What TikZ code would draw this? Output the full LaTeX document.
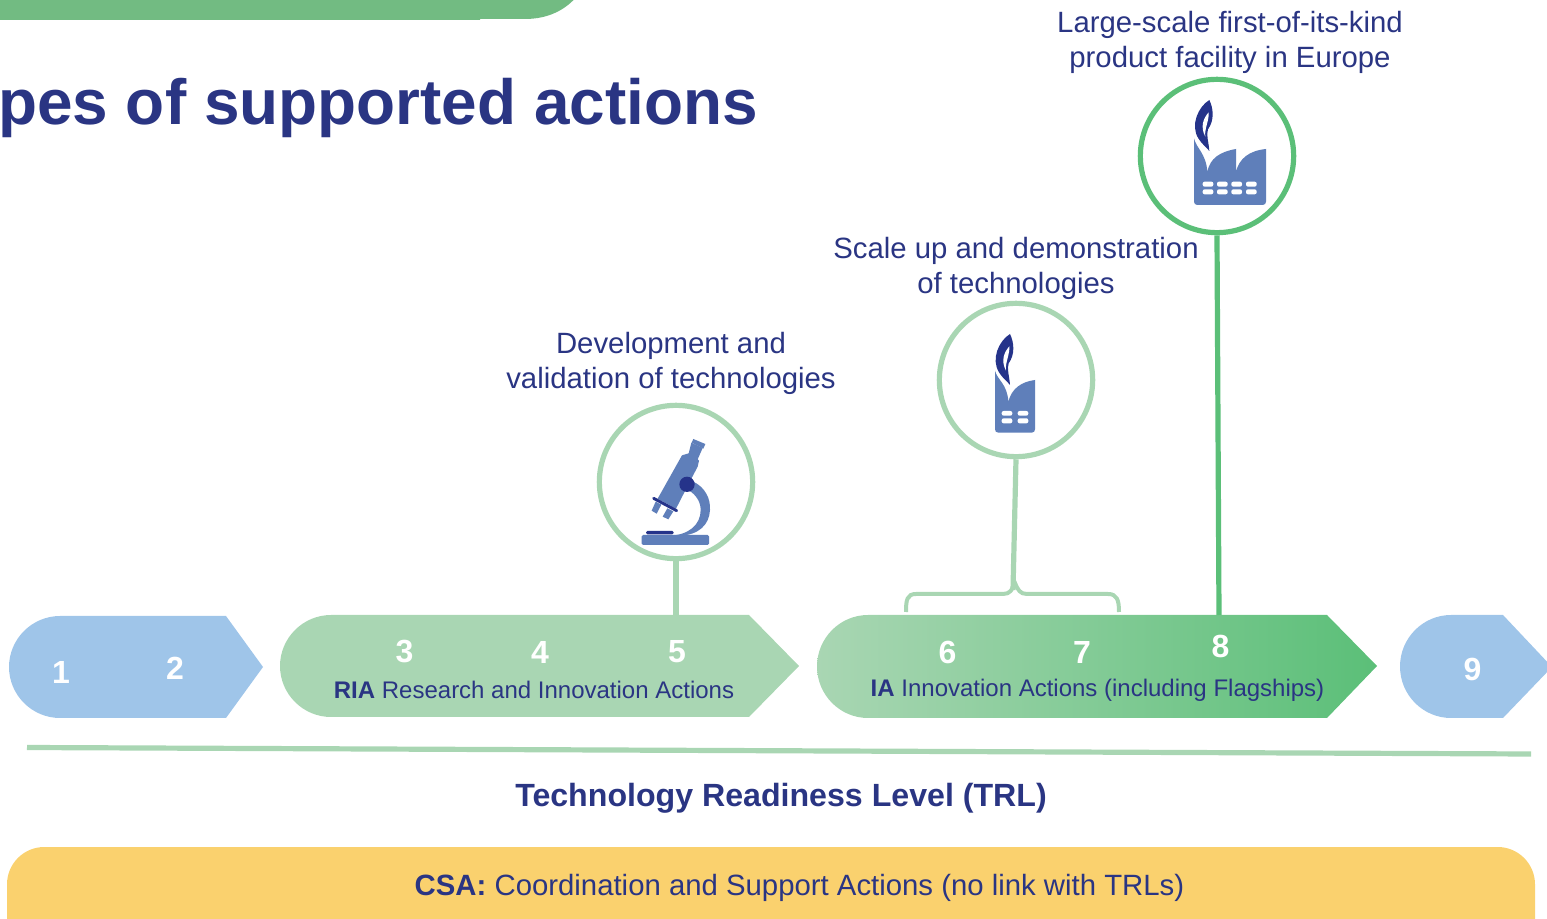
\documentclass[tikz,border=0pt]{standalone}
\usepackage{fontspec}
\setmainfont{Liberation Sans}
\definecolor{navy}{HTML}{2A3583}
\definecolor{iconblue}{HTML}{5F7FBA}
\definecolor{darkicon}{HTML}{25338A}
\definecolor{skyblue}{HTML}{9FC5E9}
\definecolor{palegreen}{HTML}{A9D6B3}
\definecolor{stronggreen}{HTML}{5BBF78}
\definecolor{topgreen}{HTML}{72BB82}
\definecolor{csayellow}{HTML}{FAD16E}
\tikzset{
  ring/.style={circle,draw=#1,line width=3.9pt,minimum size=115pt,inner sep=0pt,fill=white},
  stem/.style={draw=#1,line width=3.9pt},
  caption/.style={text=navy,align=center,font=\fontsize{22}{26.3}\selectfont},
  numlabel/.style={text=white,font=\bfseries\fontsize{24}{28}\selectfont,inner sep=0pt},
  barlabel/.style={text=navy,font=\fontsize{18}{22}\selectfont,inner sep=0pt},
  flameicon/.pic={
    \fill[darkicon] (238,90) .. controls (205,110) and (180,165) .. (205,205) .. controls (215,222) and (230,232) .. (238,243) .. controls (236,215) and (228,195) .. (234,178) .. controls (254,150) and (250,115) .. (238,90) -- cycle;
    \fill[white] (236,127) .. controls (220,145) and (210,170) .. (226,200) .. controls (222,180) and (238,150) .. (236,127) -- cycle;
  },
  win/.style={fill=white,rounded corners=1.5pt}
}
\begin{document}
\begin{tikzpicture}[x=0.75pt,y=-0.75pt]
\useasboundingbox (0,0) rectangle (1547,919);
\clip (0,0) rectangle (1547,919);
% top band
\fill[topgreen] (0,-5) -- (0,20) -- (480,20) -- (480,19) -- (525,19) .. controls (548,19) and (566,10) .. (578,-5) -- cycle;
% title
\node[anchor=base west,inner sep=0pt,text=navy,font=\bfseries\fontsize{47.9}{58}\selectfont] (title) at (-2,125) {pes of supported actions};
% chevrons
\fill[skyblue] (226,616) -- (263,667) -- (226,718) -- (60,718) .. controls (32,718) and (9,695) .. (9,667) .. controls (9,639) and (32,616) .. (60,616) -- cycle;
\fill[palegreen] (749,615) -- (799,666) -- (749,717) -- (331,717) .. controls (303,717) and (280,694) .. (280,666) .. controls (280,638) and (303,615) .. (331,615) -- cycle;
\shade[left color=palegreen,right color=stronggreen] (1327,615) -- (1377,666) -- (1327,718) -- (868,718) .. controls (840,718) and (817,695) .. (817,666.5) .. controls (817,638) and (840,615) .. (868,615) -- cycle;
\fill[skyblue] (1503,615) -- (1552,667) -- (1503,718) -- (1451,718) .. controls (1423,718) and (1400,695) .. (1400,666.5) .. controls (1400,638) and (1423,615) .. (1451,615) -- cycle;
\coordinate (riatop) at (676,615);
\coordinate (iatop) at (1219,615);
\coordinate (bracetip) at (1013,590);
% circles
\node[ring=palegreen] (micro) at (676,482) {};
\node[ring=palegreen] (scale) at (1016,380) {};
\node[ring=stronggreen] (large) at (1217,156) {};
\draw[stem=palegreen] (micro.south) -- (riatop);
\draw[stem=palegreen] (scale.south) -- (bracetip);
\draw[stem=stronggreen] (large.south) -- (iatop);
% brace
\draw[palegreen,line width=3pt] (906,612) .. controls (906,600) and (907,594) .. (916,594) -- (1003,594) .. controls (1010,594) and (1012,590) .. (1015,583) .. controls (1018,590) and (1020,594) .. (1027,594) -- (1108,594) .. controls (1117,594) and (1119,600) .. (1119,612);
% microscope
\begin{scope}[shift={(590,400)},x=0.25pt,y=-0.25pt]
  \fill[iconblue] (310,117) -- (346,132) -- (340,146) -- (305,128) -- cycle;
  \fill[iconblue] (304,128) -- (338,144) -- (323,178) -- (327,182) -- (323,200) -- (302,240) -- (258,326) -- (203,296) -- (276,166) -- (296,160) -- cycle;
  \fill[iconblue] (197,305) -- (214,314) -- (200,341) -- (185,332) -- cycle;
  \fill[iconblue] (232,325) -- (250,334) -- (235,358) -- (218,350) -- cycle;
  \fill[iconblue] (310,245) .. controls (345,262) and (362,295) .. (360,330) .. controls (358,375) and (325,405) .. (270,407) -- (240,407) .. controls (295,405) and (332,375) .. (332,330) .. controls (332,305) and (318,285) .. (298,272) -- cycle;
  \fill[iconblue,rounded corners=1pt] (155,405) rectangle (357,435);
  \draw[darkicon,line width=2.2pt,line cap=round] (191,295) -- (260,332);
  \fill[darkicon] (291,253) circle[radius=23];
  \fill[darkicon,rounded corners=1pt] (168,393) rectangle (251,403);
\end{scope}
% small factory
\begin{scope}[shift={(930,300)},x=0.25pt,y=-0.25pt]
  \fill[iconblue] (195,212) .. controls (202,240) and (232,252) .. (235,305) .. controls (245,265) and (275,245) .. (315,240) -- (315,388) .. controls (315,394) and (311,398) .. (305,398) -- (205,398) .. controls (199,398) and (195,394) .. (195,388) -- cycle;
  \pic at (2,12) {flameicon};
  \foreach \xa in {215,263}{
    \fill[win] (\xa,333) rectangle (\xa+32,347);
    \fill[win] (\xa,355) rectangle (\xa+32,370);
  }
\end{scope}
% large factory
\begin{scope}[shift={(1130,70)},x=0.25pt,y=-0.25pt]
  \fill[iconblue] (192,205) .. controls (199,235) and (228,250) .. (232,305) .. controls (240,265) and (270,245) .. (318,237) -- (318,305) .. controls (328,265) and (358,242) .. (408,237) -- (408,395) .. controls (408,401) and (404,405) .. (398,405) -- (202,405) .. controls (196,405) and (192,401) .. (192,395) -- cycle;
  \pic at (0,0) {flameicon};
  \foreach \xa in {218,261,304,348}{
    \fill[win] (\xa,335) rectangle (\xa+32,350);
    \fill[win] (\xa,358) rectangle (\xa+32,373);
  }
\end{scope}
% captions
\node[caption] (capa) at (671,363) {Development and\\validation of technologies};
\node[caption] (capb) at (1016,268) {Scale up and demonstration\\of technologies};
\node[caption] (capc) at (1230,42) {Large-scale first-of-its-kind\\product facility in Europe};
% numbers
\node[numlabel] (n1) at (61,672) {1};
\node[numlabel] (n2) at (175,668) {2};
\node[numlabel] (n3) at (404.5,652) {3};
\node[numlabel] (n4) at (540,652) {4};
\node[numlabel] (n5) at (677,652) {5};
\node[numlabel] (n6) at (947.5,652) {6};
\node[numlabel] (n7) at (1082,652) {7};
\node[numlabel] (n8) at (1220.5,646) {8};
\node[numlabel] (n9) at (1472.5,669) {9};
\node[barlabel] (ria) at (534,690) {\textbf{RIA} Research and Innovation Actions};
\node[barlabel] (ia) at (1097.5,690) {\textbf{IA} Innovation Actions (including Flagships)};
% axis
\draw[palegreen,line width=3.9pt] (27,747.5) coordinate (axl) -- (1531,754) coordinate (axr);
\node[text=navy,font=\bfseries\fontsize{24.1}{29}\selectfont] (trl) at (781,798) {Technology Readiness Level (TRL)};
% CSA
\fill[csayellow,rounded corners=28pt] (7,847) rectangle (1535,960);
\node[text=navy,font=\fontsize{22}{27}\selectfont] (csa) at (799.5,888) {\textbf{CSA:} Coordination and Support Actions (no link with TRLs)};
\end{tikzpicture}
\end{document}
